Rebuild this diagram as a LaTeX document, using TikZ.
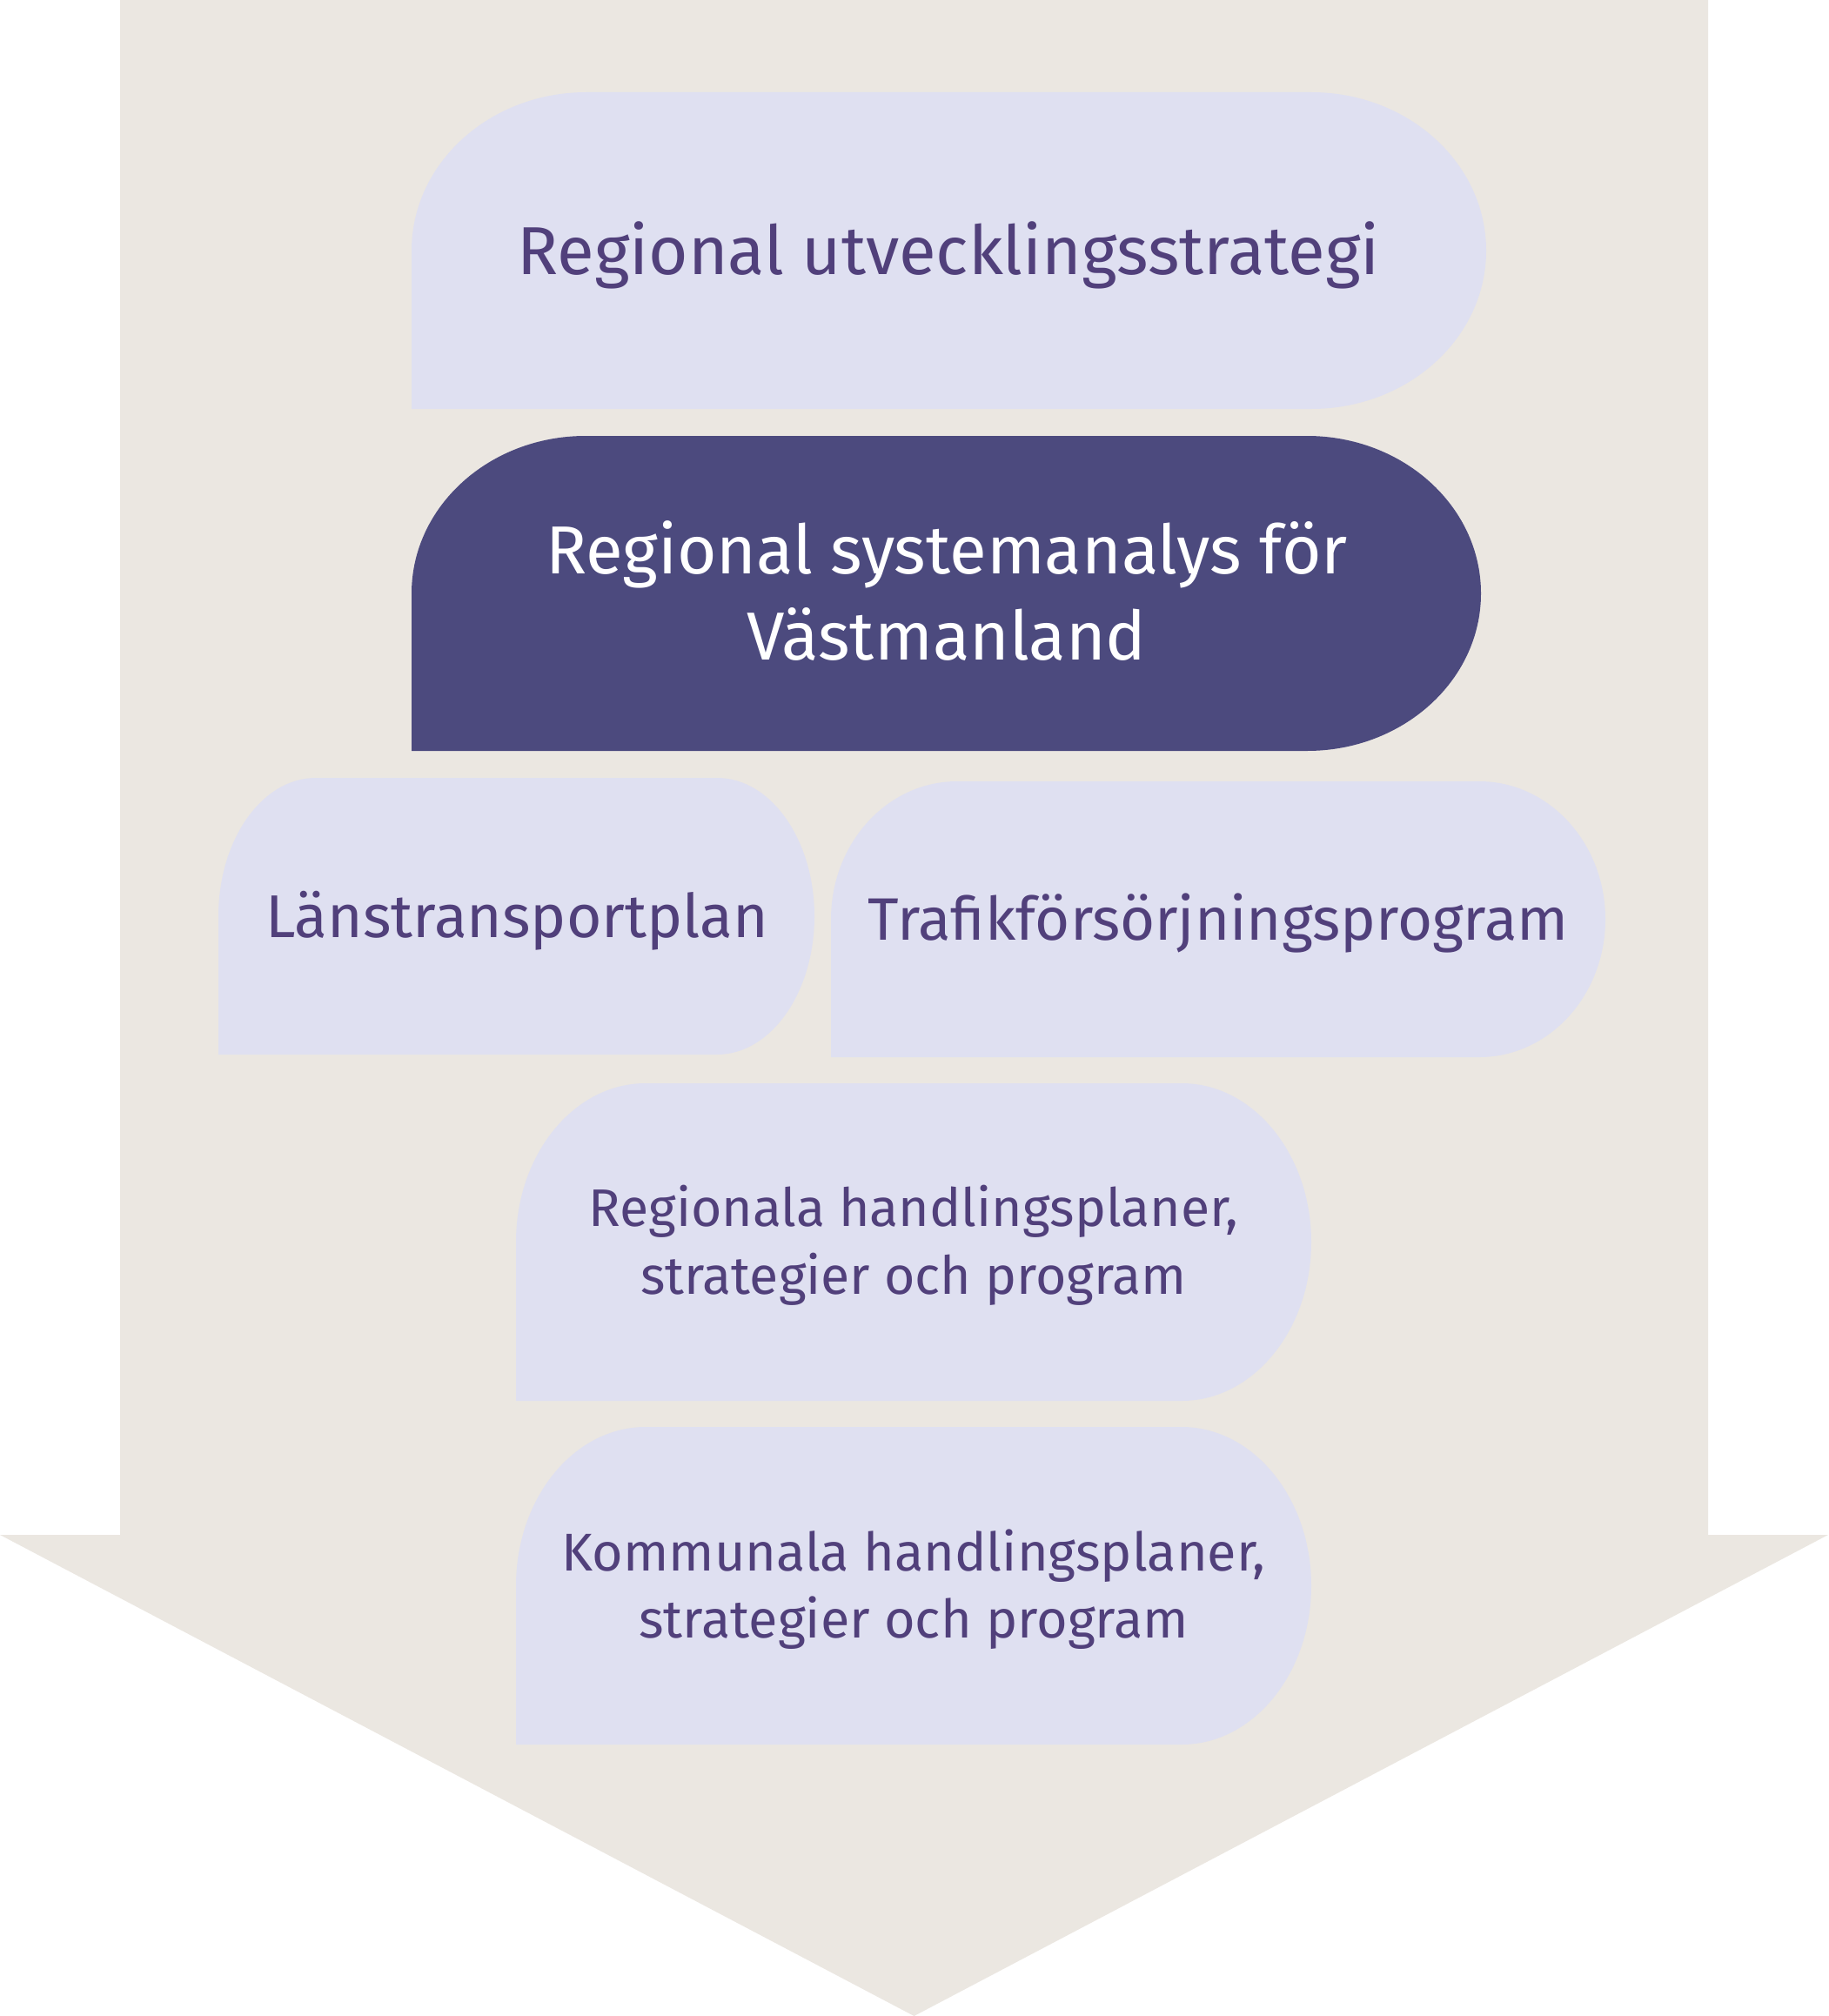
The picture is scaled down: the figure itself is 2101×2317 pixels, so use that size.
\documentclass[tikz,border=0pt]{standalone}
\usepackage{fontspec}
\setmainfont{Fira Sans}
\definecolor{arrowbg}{HTML}{EBE7E1}
\definecolor{lightbox}{HTML}{DFE0F1}
\definecolor{darkbox}{HTML}{4C4A7E}
\definecolor{txtpurple}{HTML}{51407B}
\newlength\fitlen
\newcommand\fitsel[2]{% #1 target width, #2 sample text: select a size that makes #2 that wide
  \settowidth\fitlen{\fontsize{10pt}{12pt}\selectfont #2}%
  \pgfmathsetmacro\fsz{10*#1/\fitlen}%
  \fontsize{\fsz pt}{\fsz pt}\selectfont}
\newcommand\blob[7]{% #1 L, #2 T, #3 R, #4 B, #5 corner rx, #6 style, #7 name
  \pgfmathsetmacro\bH{(#4-#2)/2}%
  \pgfmathsetmacro\bM{(#2+#4)/2}%
  \pgfmathsetmacro\bK{0.5523*#5}%
  \pgfmathsetmacro\bV{0.5523*\bH}%
  \fill[#6] (#1,#4) -- (#1,\bM) .. controls (#1,\bM-\bV) and (#1+#5-\bK,#2) .. (#1+#5,#2)
    -- (#3-#5,#2) .. controls (#3-#5+\bK,#2) and (#3,\bM-\bV) .. (#3,\bM)
    .. controls (#3,\bM+\bV) and (#3-#5+\bK,#4) .. (#3-#5,#4) -- cycle;
  \coordinate (#7) at ({(#1+#3)/2},\bM);}
\tikzset{
  lightfill/.style={fill=lightbox},
  darkfill/.style={fill=darkbox},
  lbl/.style={anchor=base, inner sep=0pt, text=txtpurple},
  lblw/.style={anchor=base, inner sep=0pt, text=white}
}
\begin{document}
\begin{tikzpicture}[x=1pt,y=-1pt]
\useasboundingbox (0,0) rectangle (2101,2317);
% big arrow
\fill[arrowbg] (138,0) -- (1963,0) -- (1963,1764) -- (2101,1764) -- (1050.5,2317) -- (0,1764) -- (138,1764) -- cycle;
% boxes
\blob{473}{106}{1708}{470}{201}{lightfill}{b1}
\blob{473}{501}{1702}{863}{200}{darkfill}{b2}
\blob{251}{894}{936}{1212}{112}{lightfill}{b3}
\blob{955}{898}{1845}{1215}{145}{lightfill}{b4}
\blob{593}{1245}{1507}{1610}{149}{lightfill}{b5}
\blob{593}{1640}{1507}{2005}{149}{lightfill}{b6}
% texts
\node[lbl] (t1) at (1090,315) {\fitsel{991}{Regional utvecklingsstrategi}Regional utvecklingsstrategi};
\node[lblw] (t2a) at (1088,659) {\fitsel{922}{Regional systemanalys för}Regional systemanalys för};
\node[lblw] (t2b) at (1088,758) {\fitsel{922}{Regional systemanalys för}Västmanland};
\node[lbl] (t3) at (594,1077) {\fitsel{578}{Länstransportplan}Länstransportplan};
\node[lbl] (t4) at (1400,1080) {\fitsel{805}{Trafikförsörjningsprogram}Trafikförsörjningsprogram};
\node[lbl] (t5a) at (1050,1409) {\fitsel{747}{Regionala handlingsplaner,}Regionala handlingsplaner,};
\node[lbl] (t5b) at (1050,1487) {\fitsel{747}{Regionala handlingsplaner,}strategier och program};
\node[lbl] (t6a) at (1050,1805) {\fitsel{809}{Kommunala handlingsplaner,}Kommunala handlingsplaner,};
\node[lbl] (t6b) at (1050,1882) {\fitsel{809}{Kommunala handlingsplaner,}strategier och program};
\end{tikzpicture}
\end{document}
